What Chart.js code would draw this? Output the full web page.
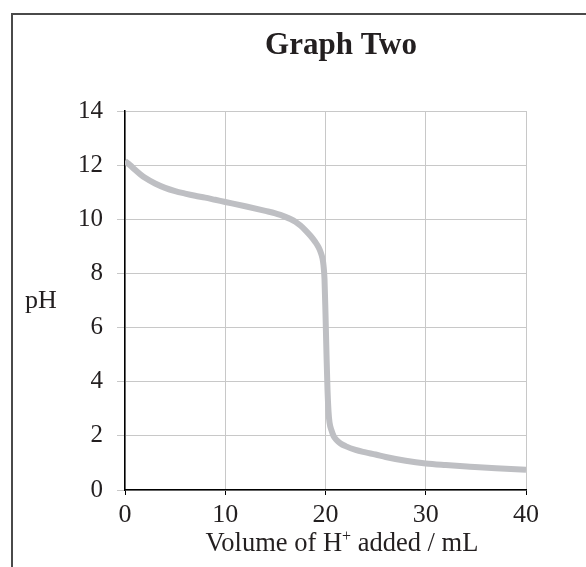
<!DOCTYPE html>
<html>
<head>
<meta charset="utf-8">
<script src="https://cdn.jsdelivr.net/npm/chart.js@4"></script>
<style>
  html, body { margin: 0; padding: 0; background: #fff; overflow: hidden; }
  #wrap { position: relative; width: 586px; height: 567px; }
  #frame { position: absolute; left: 11px; top: 13px; width: 700px; height: 700px;
           border-left: 2px solid #4a4a4a; border-top: 2px solid #4a4a4a; }
  canvas { position: absolute; left: 0; top: 0; }
</style>
</head>
<body>
<div id="wrap">
  <div id="frame"></div>
  <canvas id="chart" width="586" height="567"></canvas>
</div>
<script>
// volume of H+ added (mL) and the pH
const volume = [0, 0.5, 1, 1.5, 2, 3, 4, 5, 6, 7, 8, 9, 10, 12, 14, 15, 15.5, 16, 16.5, 17, 17.5,
  18, 18.5, 19, 19.3, 19.5, 19.7, 19.8, 19.9, 20.0, 20.1, 20.2, 20.3, 20.4, 20.6, 20.8,
  21.1, 21.5, 22, 23, 24, 25, 26, 28, 30, 32, 34.4, 37, 40];
const pH = [12.15, 12.0, 11.83, 11.67, 11.53, 11.32, 11.16, 11.04, 10.95, 10.87, 10.8, 10.72,
  10.64, 10.48, 10.31, 10.22, 10.16, 10.09, 10.01, 9.91, 9.77, 9.59, 9.39, 9.15, 8.97, 8.8, 8.55,
  8.3, 7.8, 6.5, 5.0, 3.7, 2.9, 2.5, 2.2, 2.0, 1.85, 1.72, 1.62, 1.48, 1.39, 1.31, 1.22, 1.08,
  0.98, 0.92, 0.86, 0.8, 0.75];

const xTicks = [0, 10, 20, 30, 40];
const yTicks = [0, 2, 4, 6, 8, 10, 12, 14];

const titleText = "Graph Two";
const yLabel = "pH";
const xLabel = ["Volume of H", "+", " added / mL"];

const serif = "'Liberation Serif', 'Times New Roman', serif";

// draws the title and axis labels (pH sits flat, H+ needs a superscript)
const labelsPlugin = {
  id: "labels",
  afterDraw(chart) {
    const ctx = chart.ctx;
    ctx.save();
    ctx.fillStyle = "#231f20";
    ctx.textBaseline = "alphabetic";

    ctx.font = "bold 31px " + serif;
    ctx.textAlign = "center";
    ctx.fillText(titleText, 341, 54);

    ctx.font = "26px " + serif;
    ctx.textAlign = "left";
    ctx.fillText(yLabel, 25, 308);

    // x axis title
    const big = "26.5px " + serif, small = "16px " + serif;
    ctx.font = big;
    const w1 = ctx.measureText(xLabel[0]).width;
    const w3 = ctx.measureText(xLabel[2]).width;
    ctx.font = small;
    const w2 = ctx.measureText(xLabel[1]).width;
    let x = 342 - (w1 + w2 + w3) / 2;
    const base = 551;
    ctx.font = big;
    ctx.fillText(xLabel[0], x, base);
    x += w1;
    ctx.font = small;
    ctx.fillText(xLabel[1], x, base - 10);
    x += w2;
    ctx.font = big;
    ctx.fillText(xLabel[2], x, base);
    ctx.restore();
  }
};

new Chart(document.getElementById("chart").getContext("2d"), {
  type: "line",
  data: {
    datasets: [
      {
        data: volume.map((v, i) => ({ x: v, y: pH[i] })),
        borderColor: "rgb(190, 191, 195)",
        borderWidth: 6,
        pointRadius: 0,
        fill: false,
        cubicInterpolationMode: "monotone",
        borderCapStyle: "butt",
        borderJoinStyle: "round",
      },
    ],
  },
  options: {
    responsive: false,
    animation: false,
    layout: { padding: { top: 111, right: 60, left: 0, bottom: 0 } },
    plugins: {
      legend: { display: false },
      title: { display: false },
      tooltip: { enabled: false },
    },
    scales: {
      x: {
        type: "linear",
        min: 0,
        max: 40,
        afterBuildTicks: (scale) => { scale.ticks = xTicks.map((v) => ({ value: v })); },
        afterFit: (scale) => { scale.height = 77; },
        grid: { color: "#c8c8c8", lineWidth: 1, tickColor: "#000", tickLength: 5 },
        border: { color: "#000", width: 1.5 },
        ticks: { color: "#231f20", font: { family: serif, size: 26 }, padding: 5, maxRotation: 0 },
      },
      y: {
        min: 0,
        max: 14,
        afterBuildTicks: (scale) => { scale.ticks = yTicks.map((v) => ({ value: v })); },
        afterFit: (scale) => { scale.width = 125; },
        grid: { color: "#c8c8c8", lineWidth: 1, tickColor: "#c8c8c8", tickLength: 8 },
        border: { color: "#000", width: 1.5 },
        ticks: { color: "#231f20", font: { family: serif, size: 25 }, padding: 14 },
      },
    },
  },
  plugins: [labelsPlugin],
});
</script>
</body>
</html>
